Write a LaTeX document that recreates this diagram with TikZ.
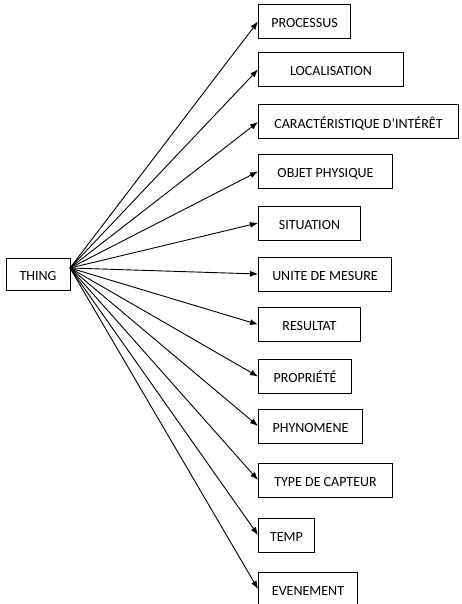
\documentclass[tikz,border=0pt]{standalone}
\usepackage{fontspec}
\setmainfont{Carlito}
\usetikzlibrary{arrows.meta}
\begin{document}
\begin{tikzpicture}[x=1pt,y=-1pt,
  box/.style={draw=black,fill=white,line width=1pt,rectangle,minimum height=34pt,inner sep=0pt,
    text height=12.5pt,text depth=0pt,anchor=west,font=\fontsize{14}{16}\selectfont},
  link/.style={draw=black,line width=0.9pt,-{Latex[length=8pt,width=6pt]}}]
\useasboundingbox (0,0) rectangle (462,604);
\node[box,minimum width=64pt,minimum height=32pt,anchor=center] (thing) at (38,274) {THING};
\coordinate (hub) at (70,268);
\node[box,minimum width=92pt]  (c1)  at (258,21.5) {PROCESSUS};
\node[box,minimum width=145pt] (c2)  at (258,69.5) {LOCALISATION};
\node[box,minimum width=200pt] (c3)  at (258,122)  {CARACTÉRISTIQUE D'INTÉRÊT};
\node[box,minimum width=134pt] (c4)  at (258,171.5){OBJET PHYSIQUE};
\node[box,minimum width=102pt] (c5)  at (258,223)  {SITUATION};
\node[box,minimum width=133pt] (c6)  at (258,274)  {UNITE DE MESURE};
\node[box,minimum width=102pt] (c7)  at (258,324.5){RESULTAT};
\node[box,minimum width=93pt]  (c8)  at (258,376.5){PROPRIÉTÉ};
\node[box,minimum width=104pt] (c9)  at (258,426)  {PHYNOMENE};
\node[box,minimum width=134pt] (c10) at (258,480)  {TYPE DE CAPTEUR};
\node[box,minimum width=56pt]  (c11) at (258,535)  {TEMP};
\node[box,minimum width=99pt]  (c12) at (258,589)  {EVENEMENT};
\foreach \i in {1,...,12}
  \draw[link] (hub) -- (c\i.west);
\end{tikzpicture}
\end{document}
